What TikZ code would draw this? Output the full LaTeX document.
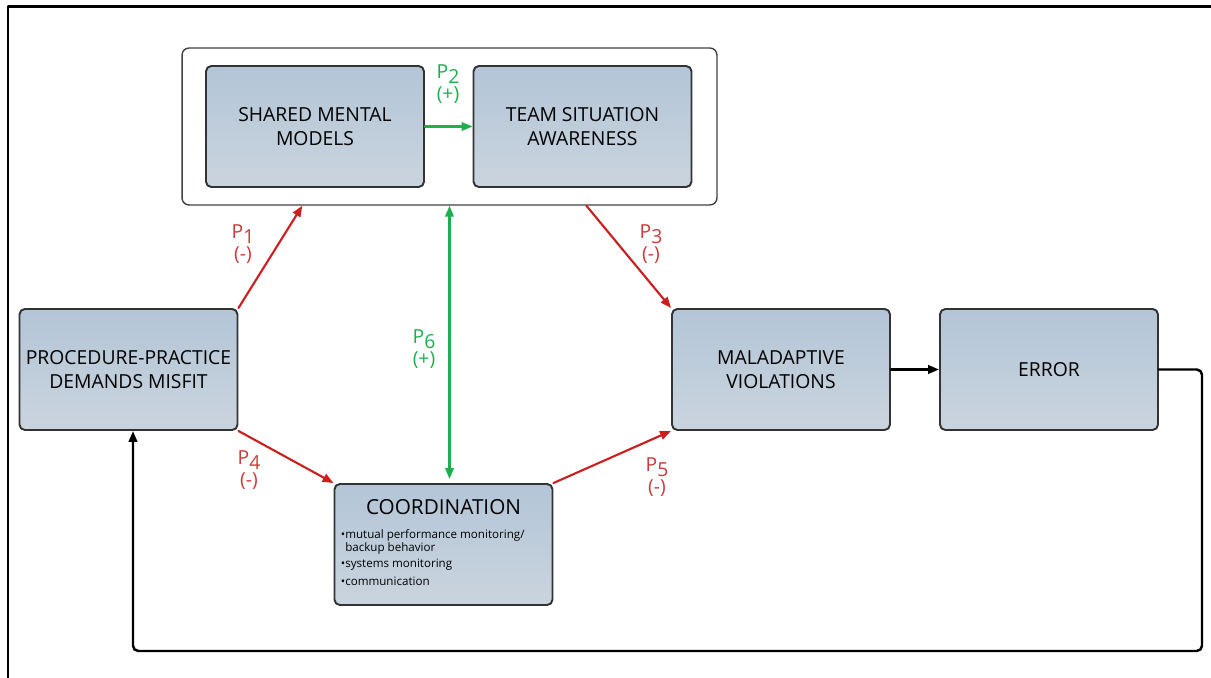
\documentclass[tikz,border=0pt]{standalone}
\usepackage{fontspec}
\setmainfont{Open Sans}
\usepackage{xcolor}
\usepackage{tikz}
\usetikzlibrary{positioning,calc,arrows.meta}

\definecolor{boxA}{HTML}{B3C5D7}
\definecolor{boxB}{HTML}{CAD4DE}
\definecolor{negred}{HTML}{CC1E1E}
\definecolor{negtxt}{HTML}{CC3A3A}
\definecolor{posgreen}{HTML}{1DB04E}

\begin{document}
\begin{tikzpicture}[x=0.02cm,y=-0.02cm, line cap=round,line join=round,>={Triangle[length=2.2mm,width=1.7mm]},
	blk/.style={draw=black!80, line width=1.1pt, rounded corners=3pt, top color=boxA, bottom color=boxB,
		minimum width=4.36cm, minimum height=2.42cm, inner sep=1pt, align=center,
		font=\fontsize{11}{13.5}\selectfont},
	negarr/.style={->, draw=negred, line width=1.2pt},
	posarr/.style={->, draw=posgreen, line width=1.2pt},
	plab/.style={align=center, font=\fontsize{11}{12.5}\selectfont, inner sep=1pt},
	fbarr/.style={->, draw=black, line width=1.4pt, rounded corners=3pt}]
	
	% ---- canvas + open frame (left and top only)
	\useasboundingbox (0,0) rectangle (1211,678);
	\draw[black, line width=1.7pt, line cap=butt] (8,678) -- (8,6.5) -- (1211,6.5);
	
	% ---- group box round the two team constructs
	\node[draw=black!75, line width=0.8pt, rounded corners=4pt, fill=white,
		minimum width=10.7cm, minimum height=3.14cm] (grp) at (449.5,126.5) {};
	
	% ---- construct boxes
	\node[blk] (smm)   at (315,126.5) {SHARED MENTAL\\MODELS};
	\node[blk] (tsa)   at (582.5,126.5) {TEAM SITUATION\\AWARENESS};
	\node[blk] (ppdm)  at (128.5,369.5) {PROCEDURE-PRACTICE\\DEMANDS MISFIT};
	\node[blk] (mv)    at (781,369.5) {MALADAPTIVE\\VIOLATIONS};
	\node[blk] (error) at (1049,369.5) {ERROR};
	\node[blk] (coord) at (443.5,544.5) {};
	
	% coordination content
	\node[font=\fontsize{11.8}{14}\selectfont, inner sep=0pt, anchor=north] (coordT)
		at ($(coord.north)+(0,16)$) {COORDINATION};
	\node[font=\fontsize{6.6}{7.4}\selectfont, inner sep=0pt, anchor=north west, align=left] (coordL)
		at ($(coord.north west)+(7,46)$)
		{\textbullet mutual performance monitoring/\\
		 \phantom{\textbullet}backup behavior\\[2pt]
		 \textbullet systems monitoring\\[2.5pt]
		 \textbullet communication};
	
	% ---- propositions
	\draw[negarr] (ppdm.north east) -- ($(grp.south west)+(121,0)$);
	\draw[posarr] (smm.east) -- (tsa.west);
	\draw[negarr] ($(grp.south west)+(405,0)$) -- (mv.north west);
	\draw[negarr] (ppdm.south east) -- (coord.north west);
	\draw[negarr] (coord.north east) -- (mv.south west);
	\draw[posarr, <->] (grp.south) -- ($(grp.south |- coord.north)+(0,-4)$);
	
	% labels
	\node[plab, text=negtxt]   (lp1) at (243,244) {P\raisebox{-0.45ex}{1}\\(-)};
	\node[plab, text=posgreen] (lp2) at (448,84)  {P\raisebox{-0.45ex}{2}\\(+)};
	\node[plab, text=negtxt]   (lp3) at (651,244) {P\raisebox{-0.45ex}{3}\\(-)};
	\node[plab, text=negtxt]   (lp4) at (249,470) {P\raisebox{-0.45ex}{4}\\(-)};
	\node[plab, text=negtxt]   (lp5) at (657,477) {P\raisebox{-0.45ex}{5}\\(-)};
	\node[plab, text=posgreen] (lp6) at (424,349) {P\raisebox{-0.45ex}{6}\\(+)};
	
	% ---- outcome and feedback loop
	\coordinate (fbR) at (1202,651);
	\draw[fbarr] (mv.east) -- (error.west);
	\draw[fbarr] (error.east) -| (fbR) -| ($(ppdm.south)+(4.5,0)$);
	
\end{tikzpicture}
\end{document}
